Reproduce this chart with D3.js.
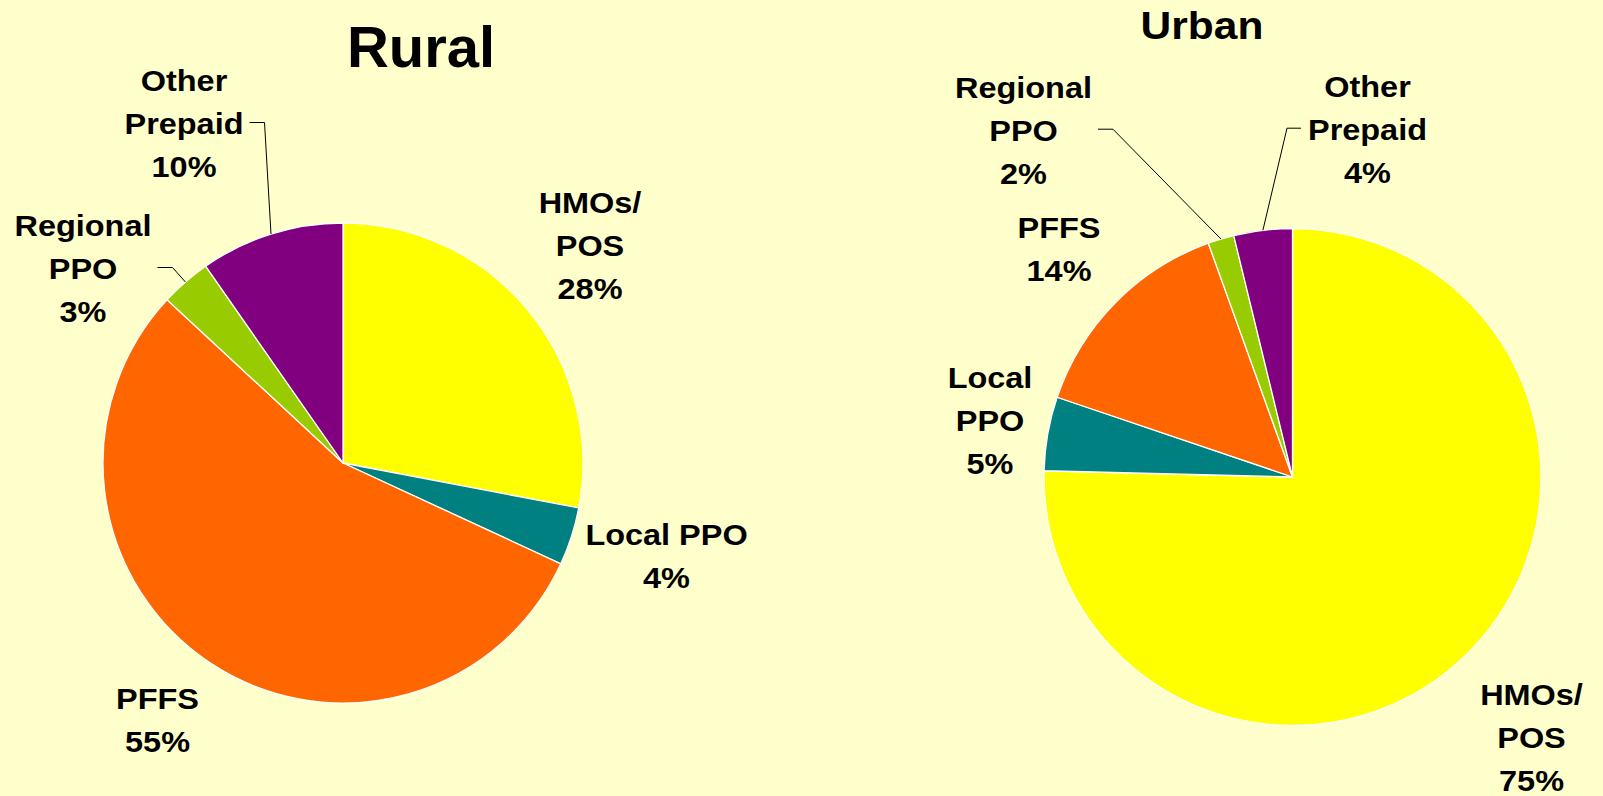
<!DOCTYPE html>
<html>
<head>
<meta charset="utf-8">
<script src="https://cdn.jsdelivr.net/npm/d3@7"></script>
<style>
  html, body { margin: 0; padding: 0; background: #FFFFCC; }
  svg { display: block; }
  text { font-family: "Liberation Sans", Arial, Helvetica, sans-serif; font-weight: bold; fill: #000; }
</style>
</head>
<body>
<svg id="chart" width="1603" height="796"></svg>
<script>
// ---- data ----
const categories = ["HMOs/POS", "Local PPO", "PFFS", "Regional PPO", "Other Prepaid"];
const ruralValues = [28.0, 3.9, 55.0, 3.4, 9.7];
const urbanValues = [75.4, 4.8, 14.3, 1.7, 3.8];
const ruralLabelLines = [["HMOs/", "POS"], ["Local PPO"], ["PFFS"], ["Regional", "PPO"], ["Other", "Prepaid"]];
const urbanLabelLines = [["HMOs/", "POS"], ["Local", "PPO"], ["PFFS"], ["Regional", "PPO"], ["Other", "Prepaid"]];
const chartTitles = ["Rural", "Urban"];

// ---- styles / layout ----
const sliceColors = ["#FFFF00", "#008080", "#FF6600", "#99CC00", "#800080"];
const colorScale = d3.scaleOrdinal().domain(categories).range(sliceColors);

const ruralLayout = {
  cx: 343, cy: 463, r: 240,
  title: { x: 421, y: 67, size: 58, sx: 1 },
  labels: [[247, -250], [323.5, 82], [-185.5, 246], [-260, -227], [-159, -372]],
  leaders: { 3: "right", 4: "right" }
};
const urbanLayout = {
  cx: 1292.5, cy: 477, r: 248.5,
  title: { x: 1202, y: 39, size: 39, sx: 1.09 },
  labels: [[239, 228], [-302.5, -88.7], [-233.5, -239], [-269, -379.3], [75, -380.3]],
  leaders: { 3: "right", 4: "left" }
};

const svg = d3.select("#chart");
svg.append("rect").attr("width", 1603).attr("height", 796).attr("fill", "#FFFFCC");

const labelSize = 29.5, labelSx = 1.1, lineH = 43;

function drawPie(values, lines, layout, title) {
  const pie = d3.pie().sort(null).value(d => d.value);
  const arcs = pie(categories.map((c, i) => ({ cat: c, value: values[i], lines: lines[i] })));
  const arc = d3.arc().innerRadius(0).outerRadius(layout.r);
  const g = svg.append("g").attr("transform", `translate(${layout.cx},${layout.cy})`);

  g.selectAll("path.slice").data(arcs).enter().append("path")
    .attr("class", "slice")
    .attr("d", arc)
    .attr("fill", d => colorScale(d.data.cat))
    .attr("stroke", "#FFFFFF")
    .attr("stroke-width", 1.3)
    .attr("stroke-linejoin", "round");

  arcs.forEach((d, i) => {
    const [dx, dy] = layout.labels[i];
    const lg = g.append("g").attr("transform", `translate(${dx},${dy}) scale(${labelSx},1)`);
    const allLines = d.data.lines.concat([Math.round(d.data.value) + "%"]);
    let maxW = 0;
    allLines.forEach((t, k) => {
      const tx = lg.append("text")
        .attr("x", 0).attr("y", k * lineH)
        .attr("text-anchor", "middle")
        .style("font-size", labelSize + "px")
        .text(t);
      maxW = Math.max(maxW, tx.node().getComputedTextLength());
    });
    const w = maxW * labelSx;
    const side = layout.leaders[i];
    if (side) {
      const a = (d.startAngle + d.endAngle) / 2;
      const px = layout.r * Math.sin(a), py = -layout.r * Math.cos(a);
      const ly = dy + lineH - 11.5;
      let x0, x1;
      if (side === "right") { x0 = dx + w / 2 + 6; x1 = x0 + 15; }
      else { x0 = dx - w / 2 - 7; x1 = x0 - 14; }
      g.append("path")
        .attr("d", d3.line()([[x0, ly], [x1, ly], [px, py]]))
        .attr("fill", "none")
        .attr("stroke", "#000")
        .attr("stroke-width", 1);
    }
  });

  svg.append("text")
    .attr("transform", `translate(${layout.title.x},${layout.title.y}) scale(${layout.title.sx},1)`)
    .attr("text-anchor", "middle")
    .style("font-size", layout.title.size + "px")
    .text(title);
}

drawPie(ruralValues, ruralLabelLines, ruralLayout, chartTitles[0]);
drawPie(urbanValues, urbanLabelLines, urbanLayout, chartTitles[1]);
</script>
</body>
</html>
